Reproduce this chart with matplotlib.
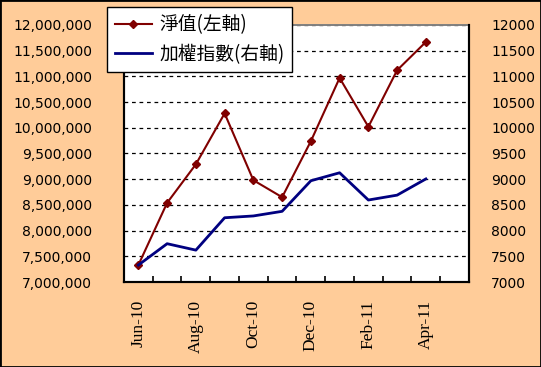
import matplotlib.pyplot as plt
from matplotlib.lines import Line2D
from matplotlib.patches import Rectangle
from matplotlib.ticker import FuncFormatter, MultipleLocator

# --- data ---
months = ['Jun-10', 'Jul-10', 'Aug-10', 'Sep-10', 'Oct-10', 'Nov-10',
          'Dec-10', 'Jan-11', 'Feb-11', 'Mar-11', 'Apr-11', 'May-11']
nav = [7330000, 8540000, 9290000, 10280000, 8980000, 8650000,
       9740000, 10970000, 10020000, 11120000, 11670000]
taiex = [7330, 7745, 7620, 8250, 8285, 8375,
         8970, 9125, 8595, 8690, 9005]
nav_label = '淨值(左軸)'
taiex_label = '加權指數(右軸)'

bg = '#FFCC99'
red = '#800000'
blue = '#000080'
cjk = ['Noto Sans CJK TC', 'DejaVu Sans']

fig = plt.figure(figsize=(5.41, 3.67), dpi=100, facecolor=bg)
ax = fig.add_axes([0.2292, 0.2316, 0.8669 - 0.2292, 0.9319 - 0.2316])
ax.set_facecolor('white')
ax2 = ax.twinx()

xs = list(range(len(nav)))
ax.plot(xs, nav, color=red, lw=1.5, marker='D', ms=4, zorder=3)
ax2.plot(xs, taiex, color=blue, lw=2, zorder=3)

ax.set_xlim(-0.5, len(months) - 0.5)
ax.set_ylim(7000000, 12000000)
ax2.set_ylim(7000, 12000)
ax.yaxis.set_major_locator(MultipleLocator(500000))
ax2.yaxis.set_major_locator(MultipleLocator(500))
ax.yaxis.set_major_formatter(FuncFormatter(lambda v, p: f'{int(v):,}'))
ax.grid(axis='y', color='black', ls=(0, (3, 3)), lw=0.9, zorder=1)

# labels every other month at category centres
ax.set_xticks(range(0, len(months) - 1, 2))
ax.set_xticklabels(months[0:len(months) - 1:2], rotation=90,
                   family='Liberation Serif', fontsize=12.5)
ax.tick_params(axis='x', which='major', length=0, pad=13)
# tick marks on category boundaries, pointing inward
ax.set_xticks([i + 0.5 for i in range(len(months) - 1)], minor=True)
ax.tick_params(axis='x', which='minor', direction='in', length=4.5,
               width=1.2, color='black')

ax.tick_params(axis='y', length=0, pad=23, labelsize=10)
ax2.tick_params(axis='y', length=0, pad=16, labelsize=10)

for a in (ax, ax2):
    for s in ['left', 'bottom', 'right']:
        a.spines[s].set_color('black')
        a.spines[s].set_linewidth(1.5)
        a.spines[s].set_zorder(5)
    a.spines['top'].set_color('#808080')
    a.spines['top'].set_linewidth(1.2)

handles = [Line2D([], [], color=red, lw=1.5, marker='D', ms=4),
           Line2D([], [], color=blue, lw=2)]
leg = fig.legend(handles, [nav_label, taiex_label], loc='upper left',
                 bbox_to_anchor=(0.198, 0.981), borderaxespad=0,
                 prop={'family': cjk, 'size': 13.5}, frameon=True,
                 fancybox=False, framealpha=1, edgecolor='black',
                 handlelength=2.0, handletextpad=0.4, borderpad=0.4,
                 labelspacing=0.45)
leg.get_frame().set_linewidth(1)

fig.patches.append(Rectangle((0, 0), 1, 1, transform=fig.transFigure,
                             fill=False, edgecolor='black', lw=2))

fig.savefig('out.png', dpi=100, facecolor=bg)
